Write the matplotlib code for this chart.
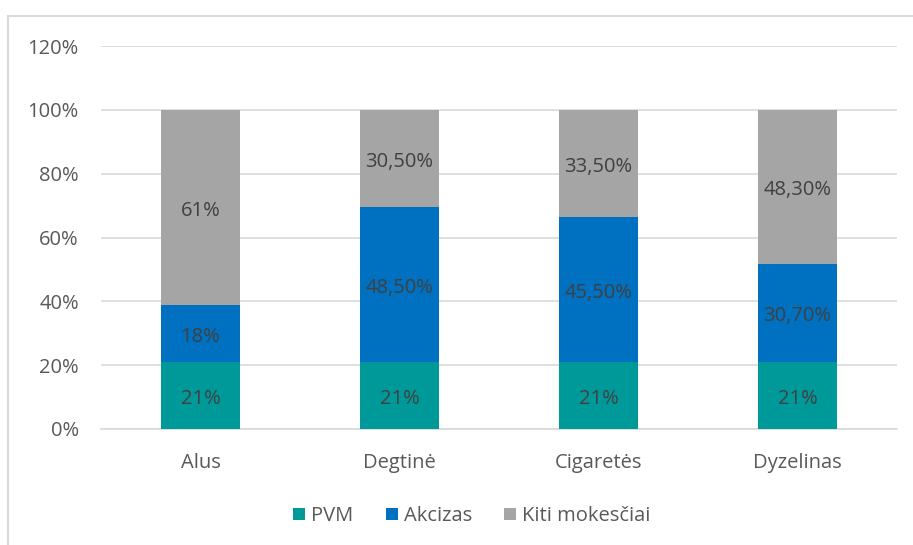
import numpy as np
import matplotlib.pyplot as plt
from matplotlib.patches import Rectangle

plt.rcParams['font.family'] = ['Open Sans', 'DejaVu Sans']

categories = ['Alus', 'Degtinė', 'Cigaretės', 'Dyzelinas']
pvm = [21, 21, 21, 21]
akcizas = [18, 48.5, 45.5, 30.7]
kiti = [61, 30.5, 33.5, 48.3]
pvm_labels = ['21%', '21%', '21%', '21%']
akcizas_labels = ['18%', '48,50%', '45,50%', '30,70%']
kiti_labels = ['61%', '30,50%', '33,50%', '48,30%']
yticks = [0, 20, 40, 60, 80, 100, 120]

fig = plt.figure(figsize=(9.13, 5.45), dpi=100)
# chart border (cut off on right and bottom)
fig.patches.append(Rectangle((7.5 / 913, -0.1), 1.2, 1 - 16 / 545 + 0.1,
                             transform=fig.transFigure, fill=False,
                             edgecolor='#D9D9D9', linewidth=1.5))

ax = fig.add_axes([101 / 913, 1 - 429 / 545, 796 / 913, 383 / 545])
x = np.arange(len(categories))
w = 0.4
b1 = ax.bar(x, pvm, w, color='#009999', label='PVM', zorder=3)
b2 = ax.bar(x, akcizas, w, bottom=pvm, color='#0070C0', label='Akcizas', zorder=3)
b3 = ax.bar(x, kiti, w, bottom=np.add(pvm, akcizas), color='#A5A5A5',
            label='Kiti mokesčiai', zorder=3)

for bars, labs in [(b1, pvm_labels), (b2, akcizas_labels), (b3, kiti_labels)]:
    for r, lab in zip(bars, labs):
        ax.annotate(lab, (r.get_x() + r.get_width() / 2, r.get_y() + r.get_height() / 2),
                    xytext=(0, -2.5), textcoords='offset points',
                    ha='center', va='center', color='#404040',
                    fontsize=14.5, zorder=4)

ax.set_xlim(-0.5, 3.5)
ax.set_ylim(0, 120)
ax.set_yticks(yticks)
ax.set_yticklabels([f'{t}%' for t in yticks])
ax.set_xticks(x)
ax.set_xticklabels(categories)
ax.tick_params(length=0, labelsize=14.5, colors='#595959')
ax.tick_params(axis='y', pad=16)
ax.tick_params(axis='x', pad=17)
ax.yaxis.grid(True, color='#D9D9D9', linewidth=1.2, zorder=0)
for s in ['top', 'right', 'left']:
    ax.spines[s].set_visible(False)
ax.spines['bottom'].set_color('#D9D9D9')
ax.spines['bottom'].set_linewidth(1.2)

fig.legend(loc='center', bbox_to_anchor=(472 / 913, 1 - 516 / 545), ncol=3,
           frameon=False, fontsize=14.5, labelcolor='#595959',
           handlelength=0.6, handleheight=0.6, handletextpad=0.3,
           columnspacing=1.6)

fig.savefig('out.png', dpi=100)
